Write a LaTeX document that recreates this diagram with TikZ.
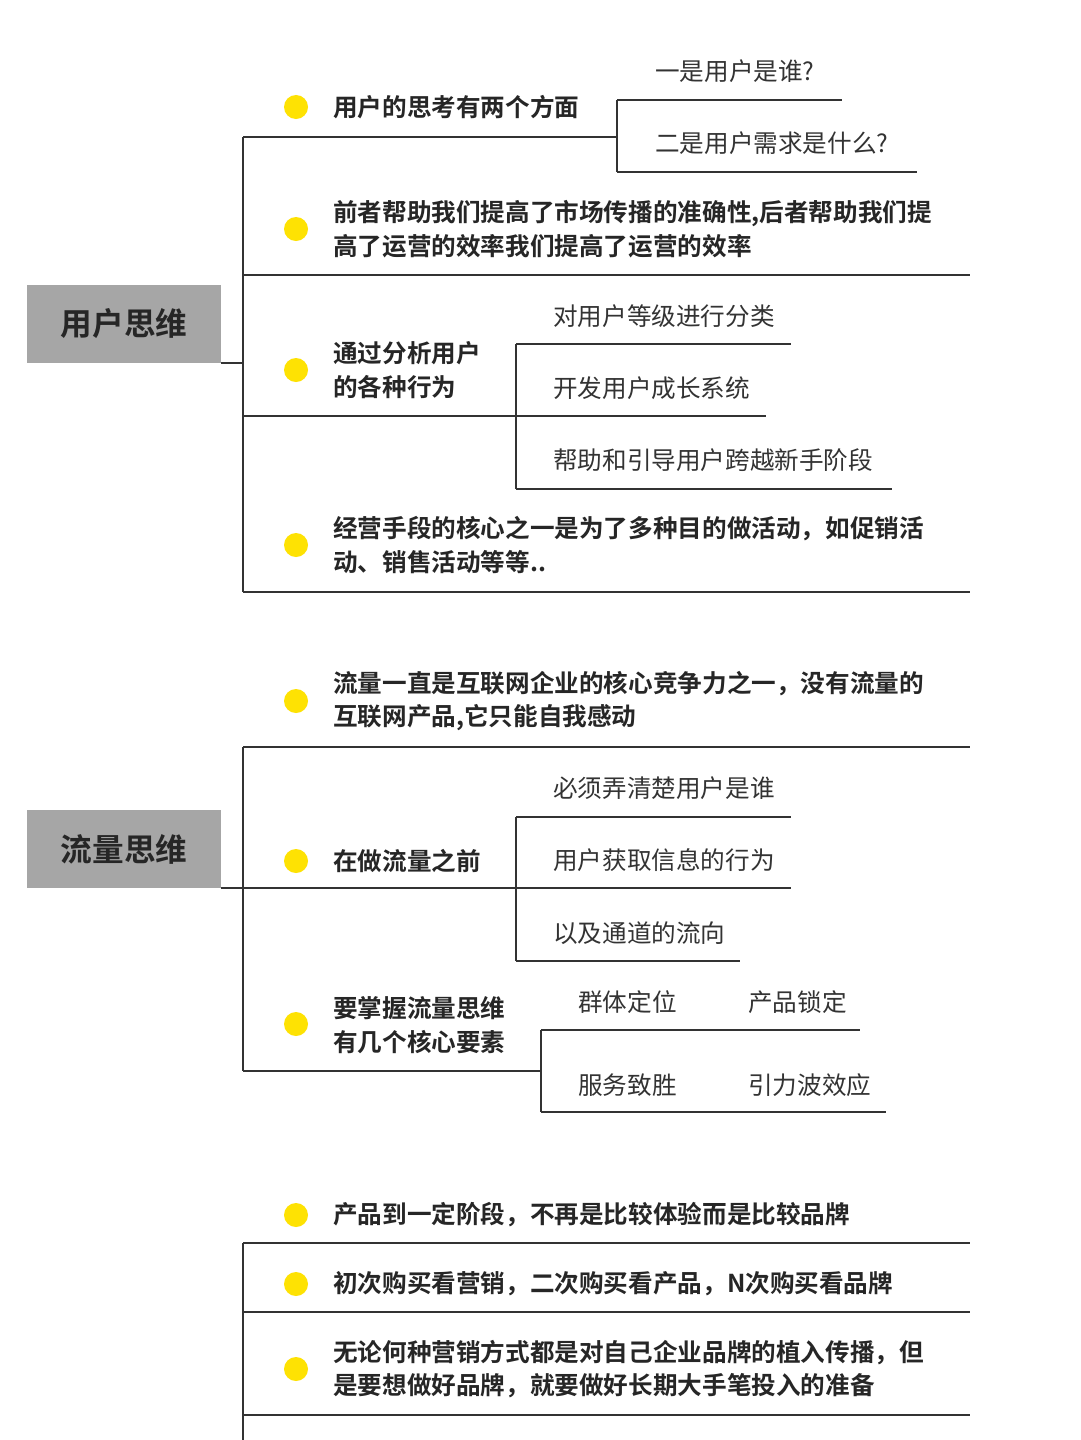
\documentclass[tikz,border=0pt]{standalone}
\usepackage{fontspec}
\newfontfamily\cjk{Noto Sans CJK SC}
\newfontfamily\cjkb{Noto Sans CJK SC Bold}
\begin{document}
\begin{tikzpicture}[x=0.025cm,y=-0.025cm,
  ln/.style={draw=black!80,line width=1.1pt},
  dot/.style={circle,fill=yellow!85!orange,minimum size=0.6cm,inner sep=0},
  item/.style={anchor=west,inner sep=0,font=\cjkb\fontsize{17.5}{24}\selectfont,text=black!85,align=left},
  sub/.style={anchor=west,inner sep=0,font=\cjk\fontsize{17.5}{24}\selectfont,text=black!80},
  topic/.style={fill=black!35,minimum width=4.85cm,minimum height=1.95cm,font=\cjkb\fontsize{22.5}{26}\selectfont,text=black!85}]
\useasboundingbox (0,0) rectangle (1080,1440);
\fill[white] (0,0) rectangle (1080,1440);
% Section 1
\node[topic] (t1) at (124,324) {用户思维};
\draw[ln] (221,363) -- (243,363);
\draw[ln] (243,137) -- (243,592);
\foreach \y in {107,229,370,545} \node[dot] at (296,\y) {};
\node[item] (a1) at (333,107) {用户的思考有两个方面};
\draw[ln] (243,137) -- (617,137);
\draw[ln] (617,100) -- (617,172);
\draw[ln] (617,100) -- (842,100);
\draw[ln] (617,172) -- (917,172);
\node[sub] (a1a) at (655,71) {一是用户是谁?};
\node[sub] (a1b) at (655,143) {二是用户需求是什么?};
\node[item] (a2) at (333,229) {前者帮助我们提高了市场传播的准确性,后者帮助我们提\\高了运营的效率我们提高了运营的效率};
\draw[ln] (243,275) -- (970,275);
\node[item] (a3) at (333,370) {通过分析用户\\的各种行为};
\draw[ln] (243,416) -- (516,416);
\draw[ln] (516,344) -- (516,489);
\draw[ln] (516,344) -- (791,344);
\draw[ln] (516,416) -- (766,416);
\draw[ln] (516,489) -- (892,489);
\node[sub] at (553,316) {对用户等级进行分类};
\node[sub] at (553,388) {开发用户成长系统};
\node[sub] at (553,460) {帮助和引导用户跨越新手阶段};
\node[item] (a4) at (333,545) {经营手段的核心之一是为了多种目的做活动，如促销活\\动、销售活动等等..};
\draw[ln] (243,592) -- (970,592);
% Section 2
\node[topic] (t2) at (124,849) {流量思维};
\draw[ln] (221,888) -- (243,888);
\draw[ln] (243,747) -- (243,1071);
\foreach \y in {701,861,1024} \node[dot] at (296,\y) {};
\node[item] at (333,701) {流量一直是互联网企业的核心竞争力之一，没有流量的\\互联网产品,它只能自我感动};
\draw[ln] (243,747) -- (970,747);
\node[item] at (333,861) {在做流量之前};
\draw[ln] (243,888) -- (516,888);
\draw[ln] (516,817) -- (516,961);
\draw[ln] (516,817) -- (791,817);
\draw[ln] (516,888) -- (791,888);
\draw[ln] (516,961) -- (740,961);
\node[sub] at (553,788) {必须弄清楚用户是谁};
\node[sub] at (553,860) {用户获取信息的行为};
\node[sub] at (553,933) {以及通道的流向};
\node[item] at (333,1025) {要掌握流量思维\\有几个核心要素};
\draw[ln] (243,1071) -- (541,1071);
\draw[ln] (541,1030) -- (541,1112);
\draw[ln] (541,1030) -- (860,1030);
\draw[ln] (541,1112) -- (886,1112);
\node[sub] at (578,1002) {群体定位};
\node[sub] at (748,1002) {产品锁定};
\node[sub] at (578,1085) {服务致胜};
\node[sub] at (748,1085) {引力波效应};
% Section 3
\draw[ln] (243,1243) -- (243,1440);
\foreach \y in {1215,1284,1369} \node[dot] at (296,\y) {};
\node[item] at (333,1215) {产品到一定阶段，不再是比较体验而是比较品牌};
\draw[ln] (243,1243) -- (970,1243);
\node[item] at (333,1284) {初次购买看营销，二次购买看产品，N次购买看品牌};
\draw[ln] (243,1312) -- (970,1312);
\node[item] at (333,1369) {无论何种营销方式都是对自己企业品牌的植入传播，但\\是要想做好品牌，就要做好长期大手笔投入的准备};
\draw[ln] (243,1415) -- (970,1415);
\end{tikzpicture}
\end{document}
